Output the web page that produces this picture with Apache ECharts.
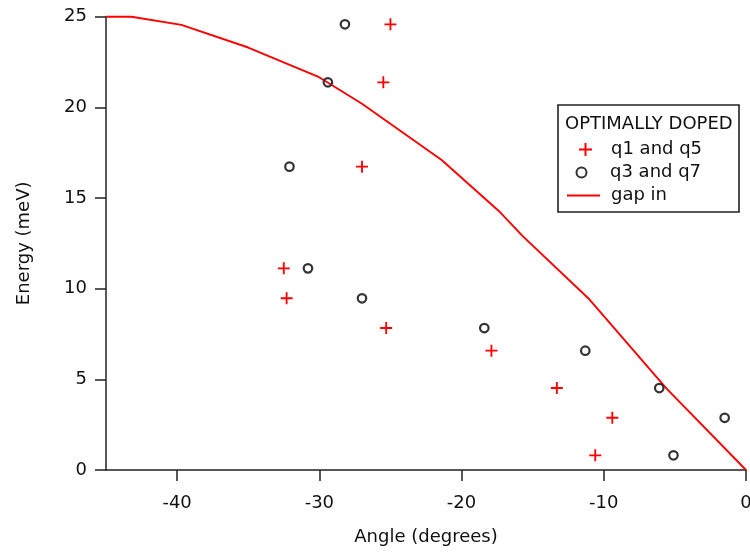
<!DOCTYPE html>
<html>
<head>
<meta charset="utf-8">
<style>html,body{margin:0;padding:0;background:#fff;}#chart{width:750px;height:552px;}</style>
<script src="https://cdn.jsdelivr.net/npm/echarts@6/dist/echarts.min.js"></script>
</head>
<body>
<div id="chart"></div>
<script>
// ---- data ----
const xTicks = [-40, -30, -20, -10, 0];
const yTicks = [0, 5, 10, 15, 20, 25];

const plusAngle  = [-25.0, -25.5, -27.0, -32.5, -32.3, -25.3, -17.9, -13.3, -9.4, -10.6];
const plusEnergy = [24.58, 21.38, 16.73, 11.12, 9.47, 7.83, 6.58, 4.52, 2.88, 0.81];

const circleAngle  = [-28.2, -29.4, -32.1, -30.8, -27.0, -18.4, -11.3, -6.1, -1.5, -5.1];
const circleEnergy = [24.58, 21.38, 16.73, 11.12, 9.47, 7.83, 6.58, 4.52, 2.88, 0.81];

const gapAngle  = [-45, -43.2, -39.7, -35.0, -30.1, -27.0, -21.4, -17.4, -15.7, -11.0, -5.6, 0];
const gapEnergy = [25.0, 25.0, 24.55, 23.3, 21.7, 20.2, 17.1, 14.3, 12.9, 9.4, 4.5, 0];

const legendTitle = 'OPTIMALLY DOPED';
const names = ['q1 and q5', 'q3 and q7', 'gap in'];

// ---- chart ----
const FONT = 'DejaVu Sans';
const TXT = '#111';
const AX = '#222';
const plusPath = 'path://M5.5,0H7.5V5.5H13V7.5H7.5V13H5.5V7.5H0V5.5H5.5Z';

const zip = (a, b) => a.map((v, i) => [v, b[i]]);
const chart = echarts.init(document.getElementById('chart'), null, {renderer: 'canvas'});

const legendCommon = {
  orient: 'vertical', padding: 0, itemWidth: 33, selectedMode: false
};
const legText = pad => ({fontFamily: FONT, fontSize: 18, color: TXT, padding: [0, 0, 0, pad]});

chart.setOption({
  animation: false,
  backgroundColor: '#fff',
  textStyle: {fontFamily: FONT},
  grid: {left: 106, right: 4, top: 16.7, bottom: 82, containLabel: false, outerBoundsMode: 'none'},
  xAxis: {
    type: 'value', min: -45, max: 0,
    name: 'Angle (degrees)', nameLocation: 'middle', nameGap: 58,
    nameTextStyle: {fontFamily: FONT, fontSize: 18, color: TXT},
    axisLine: {show: true, onZero: false, lineStyle: {color: AX, width: 1.5}},
    axisTick: {show: true, length: 11, customValues: xTicks, lineStyle: {color: AX, width: 1.5}},
    axisLabel: {customValues: xTicks, margin: 24, fontFamily: FONT, fontSize: 18, color: TXT,
                formatter: v => String(v)},
    splitLine: {show: false}
  },
  yAxis: {
    type: 'value', min: 0, max: 25, interval: 5,
    name: 'Energy (meV)', nameLocation: 'middle', nameGap: 73,
    nameTextStyle: {fontFamily: FONT, fontSize: 18, color: TXT},
    axisLine: {show: true, onZero: false, lineStyle: {color: AX, width: 1.5}},
    axisTick: {show: true, length: 11, customValues: yTicks, lineStyle: {color: AX, width: 1.5}},
    axisLabel: {customValues: yTicks, margin: 19, fontFamily: FONT, fontSize: 18, color: TXT},
    splitLine: {show: false}
  },
  legend: [
    Object.assign({}, legendCommon, {data: [names[0]], left: 579, top: 140.5, itemHeight: 13, textStyle: legText(4)}),
    Object.assign({}, legendCommon, {data: [names[1]], left: 575.5, top: 163.5, itemHeight: 10, textStyle: legText(7)}),
    Object.assign({}, legendCommon, {data: [{name: names[2], icon: 'rect'}], left: 567, top: 186.5, itemHeight: 1.9, textStyle: legText(6)})
  ],
  graphic: [
    {type: 'rect', z: 0, shape: {x: 558, y: 105, width: 181, height: 107},
     style: {fill: '#fff', stroke: '#222', lineWidth: 1.6}},
    {type: 'text', z: 1, left: 565, top: 115,
     style: {text: legendTitle, font: '18px "DejaVu Sans"', fill: TXT}}
  ],
  series: [
    {
      name: names[2], type: 'line', data: zip(gapAngle, gapEnergy),
      symbol: 'none', showSymbol: false, smooth: false, clip: false,
      lineStyle: {color: '#ff0000', width: 1.9}, itemStyle: {color: '#ff0000'}, z: 2
    },
    {
      name: names[0], type: 'scatter', data: zip(plusAngle, plusEnergy),
      symbol: plusPath, symbolSize: 12,
      itemStyle: {color: '#ff0000', opacity: 1}, z: 3
    },
    {
      name: names[1], type: 'scatter', data: zip(circleAngle, circleEnergy),
      symbol: 'circle', symbolSize: 8.5,
      itemStyle: {color: 'rgba(255,255,255,0)', borderColor: '#333', borderWidth: 2.2, opacity: 1}, z: 3
    }
  ]
});
</script>
</body>
</html>
